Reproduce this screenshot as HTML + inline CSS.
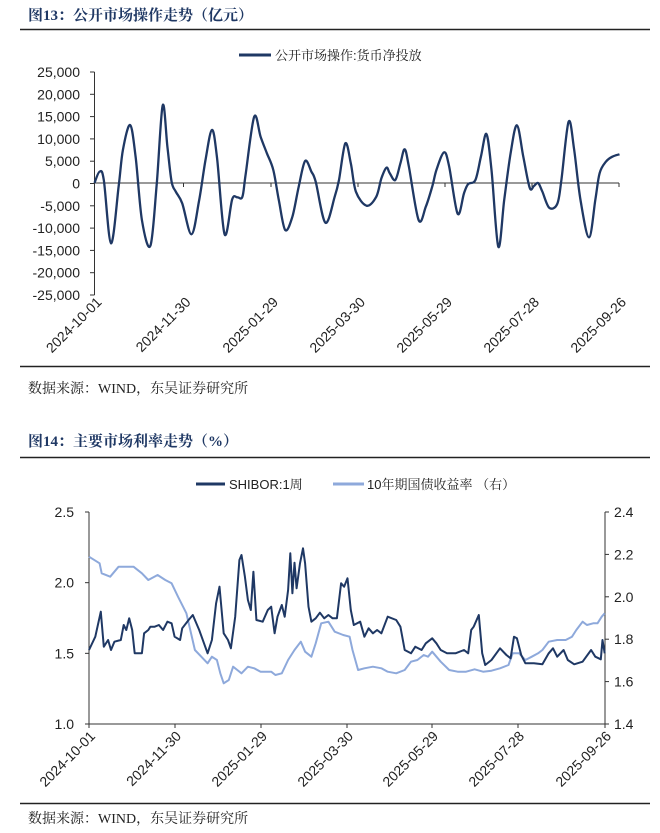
<!DOCTYPE html>
<html><head><meta charset="utf-8"><style>
body{margin:0;background:#fff}
svg{display:block}
.t{font-family:"Liberation Serif","Noto Serif CJK SC",serif;font-weight:bold;font-size:15px;fill:#1F3864}
.s{font-family:"Liberation Serif","Noto Serif CJK SC",serif;font-size:14px;fill:#222}
.l{font-family:"Liberation Sans","Noto Sans CJK SC",sans-serif;font-size:14px;fill:#222}
.lg{font-family:"Liberation Sans","Noto Serif CJK SC",sans-serif;font-size:13px;fill:#222}
</style></head><body>
<svg id="s" width="660" height="833" viewBox="0 0 660 833" xmlns="http://www.w3.org/2000/svg">
<text class="t" x="28" y="20">图13：公开市场操作走势（亿元）</text>
<line x1="20" y1="29.5" x2="650" y2="29.5" stroke="#222" stroke-width="1.5"/>
<line x1="239" y1="55" x2="271" y2="55" stroke="#1F3864" stroke-width="3"/>
<text class="lg" x="275" y="60">公开市场操作:货币净投放</text>
<g id="c1"></g>
<line x1="20" y1="366.5" x2="650" y2="366.5" stroke="#222" stroke-width="1.5"/>
<text class="s" x="28" y="393">数据来源：WIND，东吴证券研究所</text>

<text class="t" x="28" y="446">图14：主要市场利率走势（%）</text>
<line x1="20" y1="457.5" x2="650" y2="457.5" stroke="#222" stroke-width="1.5"/>
<line x1="196" y1="484" x2="225" y2="484" stroke="#1F3864" stroke-width="3"/>
<text class="lg" x="229" y="489">SHIBOR:1周</text>
<line x1="333" y1="484" x2="364" y2="484" stroke="#8EA9DB" stroke-width="3"/>
<text class="lg" x="367" y="489">10年期国债收益率 （右）</text>
<g id="c2"></g>
<line x1="20" y1="803.5" x2="650" y2="803.5" stroke="#222" stroke-width="1.5"/>
<text class="s" x="28" y="823">数据来源：WIND，东吴证券研究所</text>
</svg>
<script>
var NS="http://www.w3.org/2000/svg";
function el(g,t,a,txt){var e=document.createElementNS(NS,t);for(var k in a)e.setAttribute(k,a[k]);if(txt)e.textContent=txt;g.appendChild(e);return e;}
var dates=["2024-10-01","2024-11-30","2025-01-29","2025-03-30","2025-05-29","2025-07-28","2025-09-26"];
// chart1
var g1=document.getElementById("c1");
el(g1,"line",{x1:94.5,y1:72,x2:94.5,y2:295,stroke:"#333"});
var vals=["25,000","20,000","15,000","10,000","5,000","0","-5,000","-10,000","-15,000","-20,000","-25,000"];
for(var i=0;i<11;i++){var y=72+i*22.3;el(g1,"line",{x1:90,y1:y,x2:94.5,y2:y,stroke:"#333"});el(g1,"text",{class:"l",x:80,y:y+5,"text-anchor":"end"},vals[i]);}
var tx1=[94.5,183.5,271,358,445,532,619];
el(g1,"line",{x1:94.5,y1:183,x2:619,y2:183,stroke:"#333"});
tx1.forEach(function(x,i){el(g1,"line",{x1:x,y1:183,x2:x,y2:187,stroke:"#333"});el(g1,"text",{class:"l","text-anchor":"end",transform:"translate("+(x+8)+",303) rotate(-45)"},dates[i]);});
var p1=[[223,549],[235,515],[245,540],[262,730],[280,560],[290,450],[307,375],[320,470],[335,660],[355,737],[370,550],[384,316],[395,440],[405,545],[415,575],[430,610],[452,703],[470,600],[485,480],[500,390],[512,470],[530,703],[548,598],[560,592],[572,590],[580,520],[600,350],[615,410],[630,460],[645,510],[658,600],[673,690],[690,650],[705,560],[720,483],[735,515],[745,545],[768,668],[790,590],[800,540],[815,430],[828,490],[840,575],[865,617],[888,590],[900,535],[912,503],[920,520],[933,540],[945,490],[955,448],[965,500],[988,660],[1005,620],[1020,560],[1030,510],[1048,457],[1060,500],[1080,641],[1095,580],[1105,552],[1122,540],[1135,470],[1148,402],[1160,510],[1176,740],[1190,600],[1205,460],[1220,376],[1235,470],[1250,563],[1260,558],[1270,549],[1280,575],[1296,623],[1315,612],[1325,540],[1342,365],[1355,450],[1370,600],[1390,712],[1405,600],[1415,520],[1430,485],[1445,470],[1462,463]].map(function(p){return[p[0]/2.36,p[1]/3];});
function cr(P){var d="M"+P[0][0].toFixed(1)+","+P[0][1].toFixed(1);for(var i=0;i<P.length-1;i++){var a=P[i-1]||P[i],b=P[i],c=P[i+1],e=P[i+2]||c;d+="C"+(b[0]+(c[0]-a[0])/6).toFixed(1)+","+(b[1]+(c[1]-a[1])/6).toFixed(1)+" "+(c[0]-(e[0]-b[0])/6).toFixed(1)+","+(c[1]-(e[1]-b[1])/6).toFixed(1)+" "+c[0].toFixed(1)+","+c[1].toFixed(1);}return d;}
el(g1,"path",{d:cr(p1),fill:"none",stroke:"#1F3864","stroke-width":2.3});
// chart2
var g2=document.getElementById("c2");
el(g2,"line",{x1:89,y1:512,x2:89,y2:724,stroke:"#333"});
el(g2,"line",{x1:605,y1:512,x2:605,y2:724,stroke:"#333"});
el(g2,"line",{x1:89,y1:724,x2:605,y2:724,stroke:"#333"});
["2.5","2.0","1.5","1.0"].forEach(function(v,i){var y=512+i*70.67;el(g2,"line",{x1:85,y1:y,x2:89,y2:y,stroke:"#333"});el(g2,"text",{class:"l",x:74,y:y+5,"text-anchor":"end"},v);});
["2.4","2.2","2.0","1.8","1.6","1.4"].forEach(function(v,i){var y=512+i*42.4;el(g2,"line",{x1:605,y1:y,x2:609,y2:y,stroke:"#333"});el(g2,"text",{class:"l",x:614,y:y+5},v);});
var tx2=[89,175,261,347,432,518,605];
tx2.forEach(function(x,i){el(g2,"line",{x1:x,y1:724,x2:x,y2:728,stroke:"#333"});el(g2,"text",{class:"l","text-anchor":"end",transform:"translate("+(x+7)+",737) rotate(-45)"},dates[i]);});
function pl(P){return P.map(function(p){return (p[0]/2.36).toFixed(1)+","+(420+p[1]/3).toFixed(1);}).join(" ");}
var lt=[[210,410],[235,430],[240,460],[260,470],[280,440],[300,440],[315,440],[335,460],[350,480],[372,465],[390,480],[405,490],[420,530],[440,580],[460,690],[475,710],[490,730],[500,710],[512,720],[520,760],[528,790],[540,780],[550,740],[560,750],[570,760],[585,740],[600,745],[615,755],[640,755],[650,765],[665,760],[680,720],[695,690],[710,665],[720,695],[735,710],[745,670],[758,610],[775,605],[790,635],[810,645],[825,650],[832,690],[845,750],[860,745],[880,740],[900,745],[915,755],[935,760],[955,750],[970,725],[985,720],[1000,705],[1010,710],[1020,695],[1040,725],[1060,750],[1080,755],[1100,755],[1120,748],[1140,755],[1160,752],[1180,745],[1200,735],[1210,700],[1225,700],[1240,720],[1255,710],[1270,700],[1280,690],[1295,665],[1315,660],[1335,660],[1350,650],[1360,630],[1375,605],[1385,615],[1400,610],[1410,610],[1420,590],[1427,580]];
var dk=[[210,690],[225,650],[238,575],[245,680],[255,660],[262,690],[270,665],[285,660],[292,615],[298,630],[305,595],[312,630],[318,700],[335,700],[340,640],[350,630],[355,620],[365,620],[375,615],[385,630],[395,605],[405,610],[412,650],[425,660],[430,625],[445,600],[455,585],[470,630],[490,700],[500,660],[510,550],[518,500],[528,640],[538,660],[545,685],[555,590],[565,420],[570,405],[578,470],[585,540],[592,570],[598,455],[605,600],[620,605],[632,570],[640,560],[648,640],[655,590],[665,555],[672,590],[680,510],[685,400],[690,520],[695,428],[700,505],[708,430],[715,385],[720,430],[728,560],[735,605],[745,595],[755,578],[765,595],[775,585],[785,595],[795,595],[805,490],[812,500],[820,475],[828,570],[835,615],[850,605],[860,650],[870,625],[880,640],[890,630],[900,640],[915,590],[935,600],[945,620],[955,690],[970,700],[980,680],[995,690],[1005,670],[1020,655],[1030,670],[1040,690],[1055,700],[1075,700],[1095,690],[1105,700],[1112,630],[1118,620],[1130,585],[1138,700],[1145,735],[1160,720],[1180,685],[1195,705],[1205,715],[1213,650],[1220,655],[1230,705],[1240,730],[1260,730],[1280,733],[1295,700],[1305,685],[1315,710],[1330,690],[1340,720],[1355,733],[1375,725],[1395,690],[1405,710],[1418,718],[1422,660],[1427,700]];
el(g2,"polyline",{points:pl(lt),fill:"none",stroke:"#8EA9DB","stroke-width":2,"stroke-linejoin":"round"});
el(g2,"polyline",{points:pl(dk),fill:"none",stroke:"#1F3864","stroke-width":2,"stroke-linejoin":"round"});
</script>
</body></html>
